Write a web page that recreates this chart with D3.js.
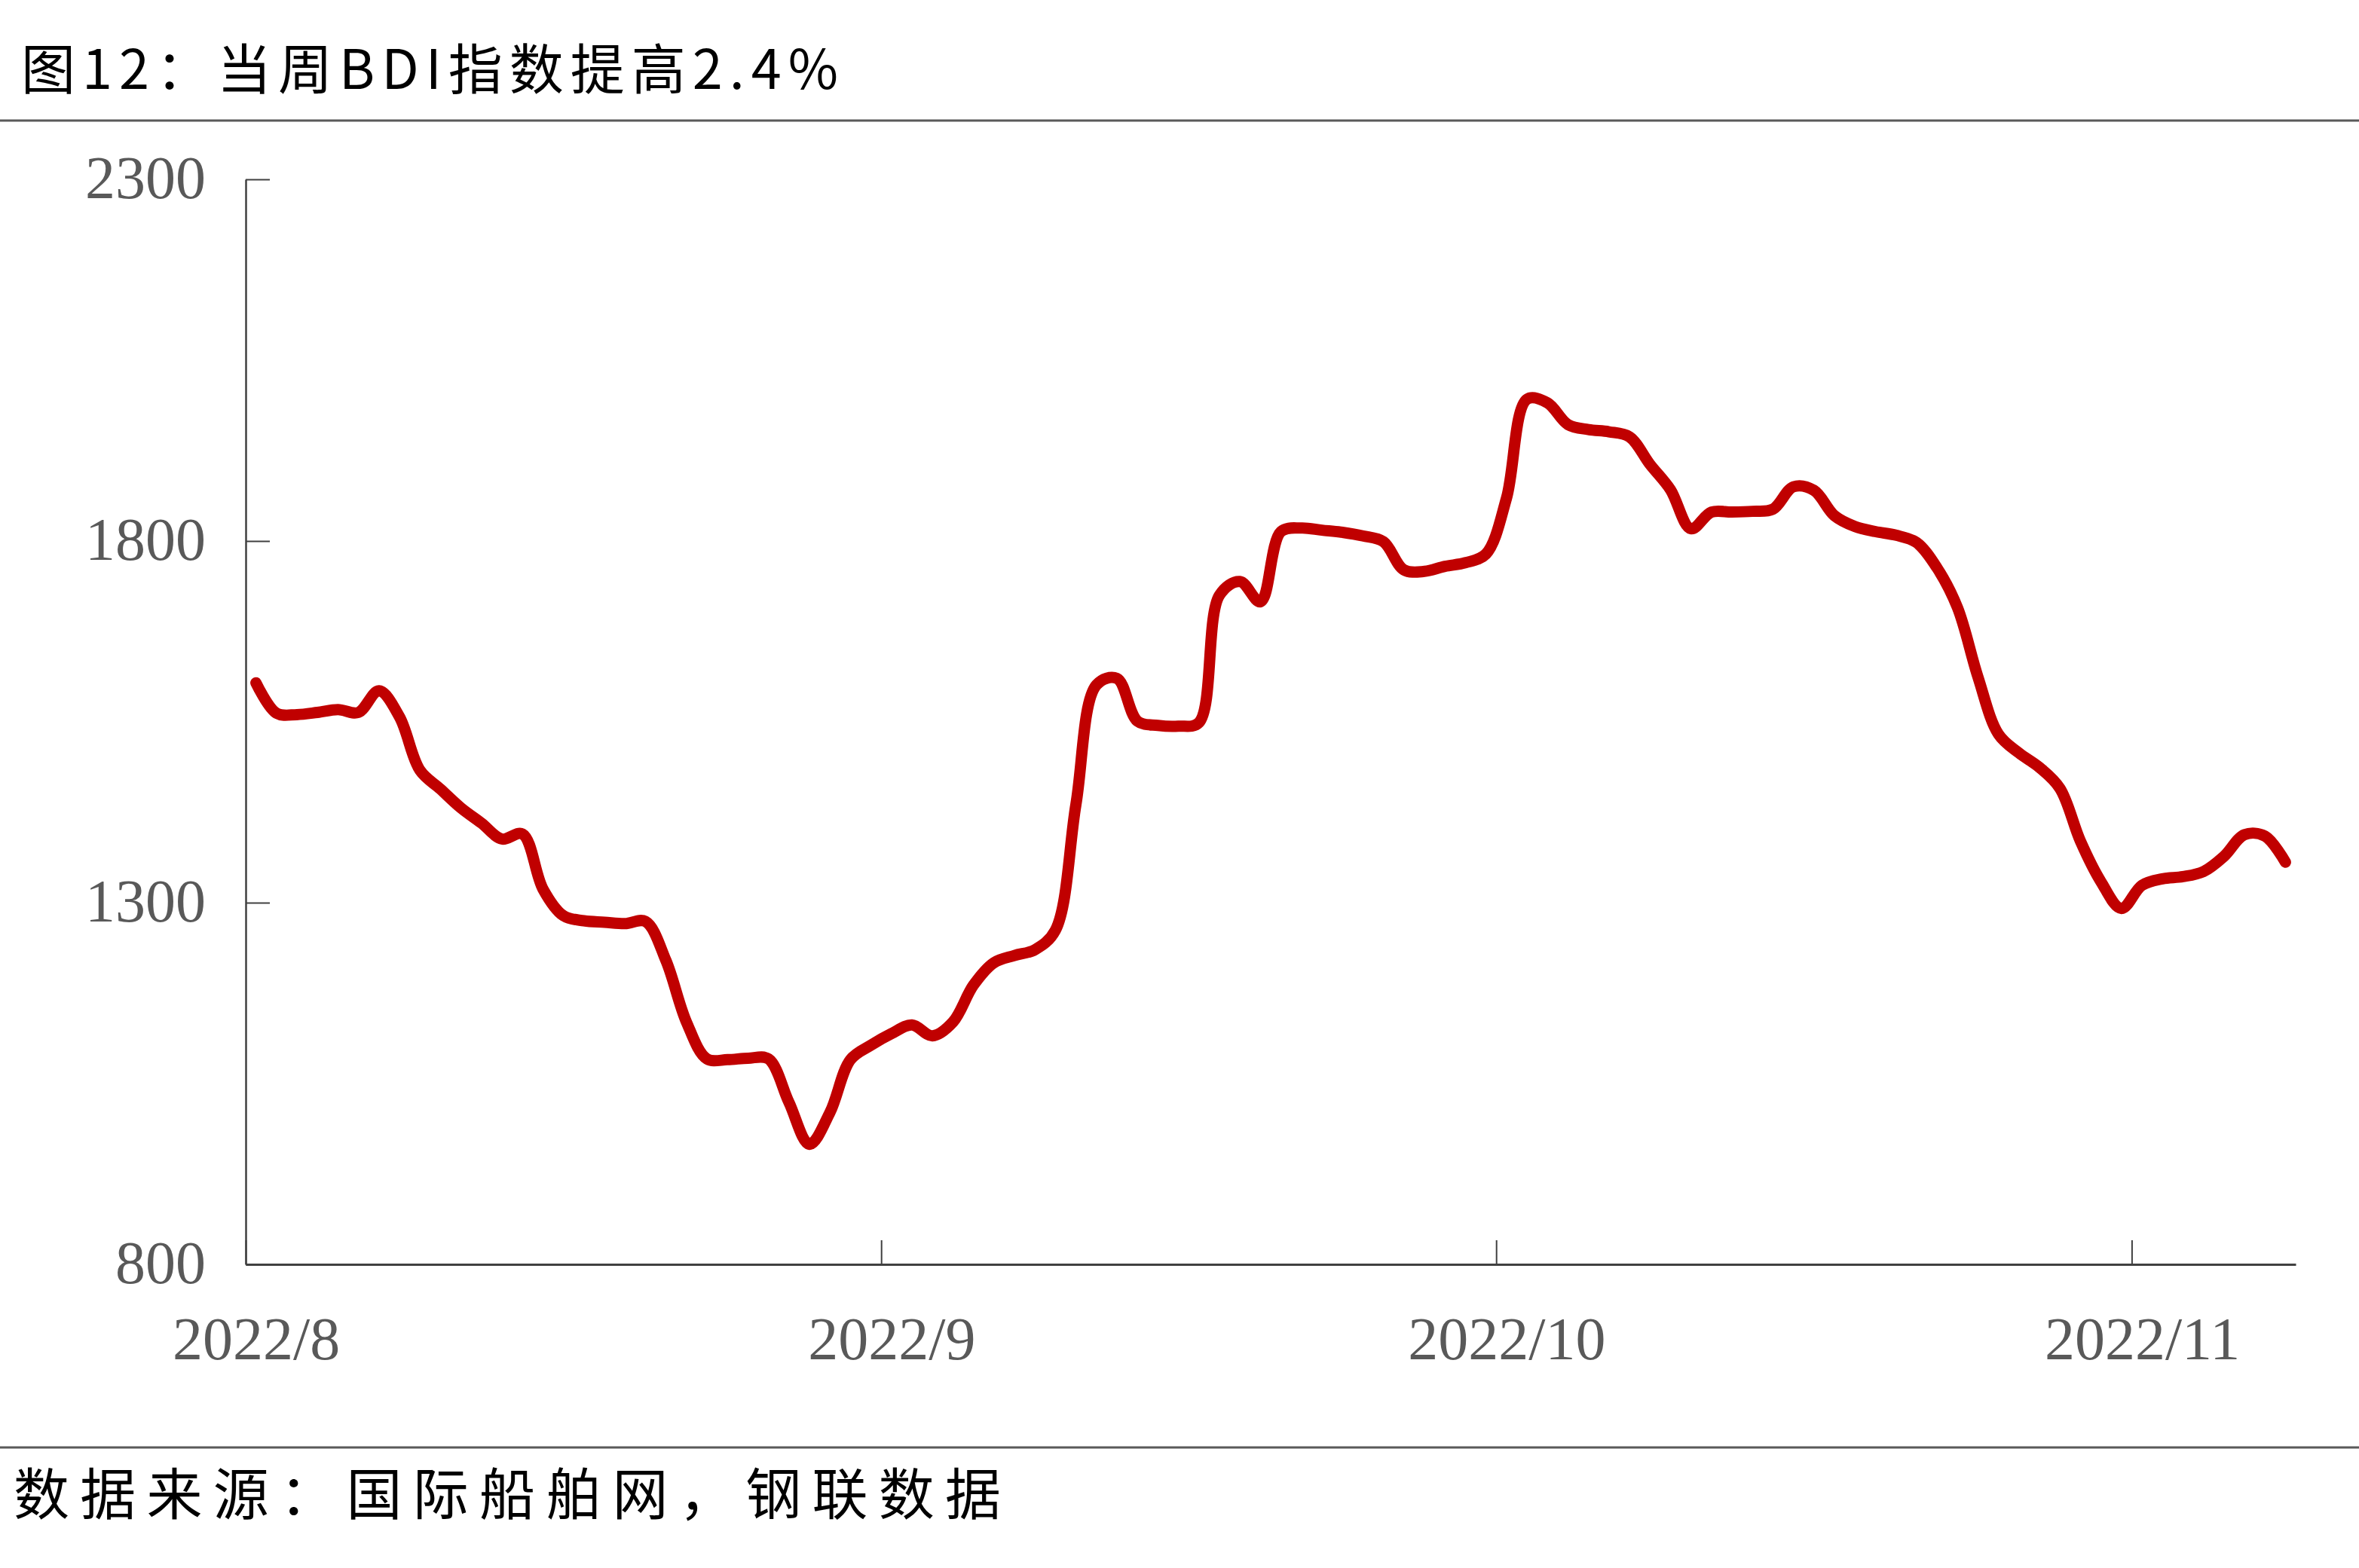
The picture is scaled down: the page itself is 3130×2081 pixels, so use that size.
<!DOCTYPE html>
<html>
<head>
<meta charset="utf-8">
<script src="https://cdn.jsdelivr.net/npm/d3@7"></script>
<style>
  html, body { margin: 0; padding: 0; background: #ffffff; }
  svg { display: block; }
</style>
</head>
<body>
<svg id="chart" width="3130" height="2081"></svg>
<script>
// ---- data ----
const titleText = "图12：当周BDI指数提高2.4%";
const sourceText = "数据来源：国际船舶网，钢联数据";
const startDate = "2022-08-01";
const endDate = "2022-11-09";          // exclusive end of daily series / axis end
const yTicks = [800, 1300, 1800, 2300];
const monthTicks = ["2022-08-01", "2022-09-01", "2022-10-01", "2022-11-01"];
const monthLabels = ["2022/8", "2022/9", "2022/10", "2022/11"];
// BDI daily readings, 2022-08-01 .. 2022-11-08
const bdiValues = [
  1604, 1562, 1560, 1563, 1567, 1563, 1593, 1557, 1483, 1457,
  1431, 1410, 1388, 1395, 1319, 1282, 1275, 1273, 1271, 1274,
  1220, 1135, 1084, 1083, 1085, 1084, 1024, 966, 1010, 1083,
  1103, 1119, 1131, 1116, 1135, 1186, 1217, 1227, 1235, 1262,
  1436, 1601, 1610, 1551, 1545, 1544, 1549, 1725, 1744, 1716,
  1813, 1818, 1815, 1812, 1807, 1799, 1760, 1758, 1765, 1770,
  1782, 1859, 1996, 1991, 1961, 1954, 1951, 1944, 1906, 1871,
  1817, 1840, 1840, 1841, 1844, 1875, 1870, 1835, 1820, 1813,
  1808, 1798, 1763, 1708, 1612, 1533, 1507, 1487, 1458, 1385,
  1329, 1292, 1324, 1333, 1336, 1343, 1364, 1394, 1392, 1356
];

// ---- build ----
const parse = d3.utcParse("%Y-%m-%d");
const dates = d3.utcDay.range(parse(startDate), parse(endDate));
const data = dates.map((d, i) => ({ date: d, value: bdiValues[i] }));

const svg = d3.select("#chart");
svg.append("rect").attr("width", 3130).attr("height", 2081).attr("fill", "#ffffff");

const x = d3.scaleUtc().domain([parse(startDate), parse(endDate)]).range([326, 3046]);
const y = d3.scaleLinear().domain([800, 2300]).range([1678, 238]);
const mid = d => d3.utcHour.offset(d, 12);

const axisColor = "#404040";
const labelColor = "#595959";
const serif = "'Liberation Serif', 'Times New Roman', serif";
const cjk = "'Noto Sans CJK SC', sans-serif";

// title
svg.append("text")
  .attr("x", 28).attr("y", 118)
  .attr("font-family", cjk).attr("font-size", 72).attr("fill", "#000")
  .attr("textLength", 1084).attr("lengthAdjust", "spacing")
  .text(titleText);

// rules
svg.append("line").attr("x1", 0).attr("x2", 3130).attr("y1", 160).attr("y2", 160)
  .attr("stroke", "#595959").attr("stroke-width", 3);
svg.append("line").attr("x1", 0).attr("x2", 3130).attr("y1", 1921).attr("y2", 1921)
  .attr("stroke", "#595959").attr("stroke-width", 3);

// footer
svg.append("text")
  .attr("x", 18).attr("y", 2010)
  .attr("font-family", cjk).attr("font-size", 74).attr("fill", "#000")
  .attr("textLength", 1310).attr("lengthAdjust", "spacing")
  .text(sourceText);

// y axis
const gy = svg.append("g").attr("transform", "translate(326,0)")
  .call(d3.axisLeft(y).tickValues(yTicks).tickSizeInner(-32).tickSizeOuter(0).tickPadding(53).tickFormat(d3.format("d")));
gy.select(".domain").attr("stroke", axisColor).attr("stroke-width", 2.5);
gy.selectAll(".tick line").attr("stroke", axisColor).attr("stroke-width", 2);
gy.selectAll(".tick text").attr("font-family", serif).attr("font-size", 80).attr("fill", labelColor).attr("dy", "0.31em");

// x axis (tick marks at month boundaries)
const monthDates = monthTicks.map(parse);
const gx = svg.append("g").attr("transform", "translate(0,1678)")
  .call(d3.axisBottom(x).tickValues(monthDates).tickSizeInner(-32).tickSizeOuter(0).tickFormat(""));
gx.select(".domain").attr("stroke", axisColor).attr("stroke-width", 3);
gx.selectAll(".tick line").attr("stroke", axisColor).attr("stroke-width", 2);

// x labels at the middle of the first day of each month
const labelMap = new Map(monthDates.map((d, i) => [+mid(d), monthLabels[i]]));
const gxl = svg.append("g").attr("transform", "translate(0,1678)")
  .call(d3.axisBottom(x).tickValues(monthDates.map(mid)).tickSize(0).tickFormat(d => labelMap.get(+d)));
gxl.select(".domain").remove();
gxl.selectAll(".tick text").attr("font-family", serif).attr("font-size", 80).attr("fill", labelColor)
  .attr("y", 126).attr("dy", 0);

// line
const line = d3.line().x(d => x(mid(d.date))).y(d => y(d.value)).curve(d3.curveCatmullRom.alpha(0.5));
svg.append("path").datum(data)
  .attr("d", line)
  .attr("fill", "none").attr("stroke", "#C00000").attr("stroke-width", 15)
  .attr("stroke-linecap", "round").attr("stroke-linejoin", "round");
</script>
</body>
</html>
